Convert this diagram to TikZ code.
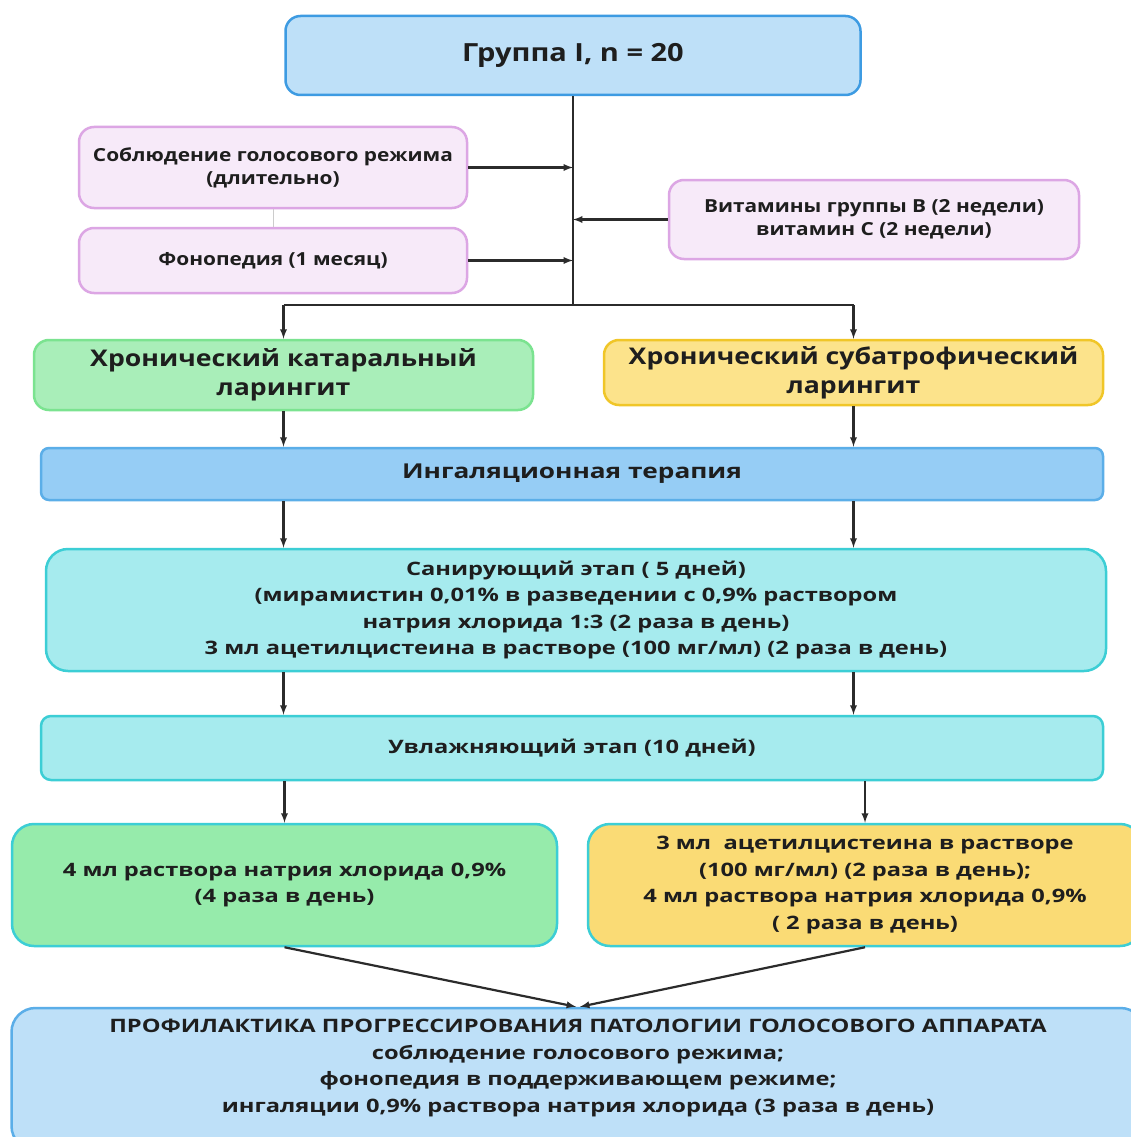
\documentclass[tikz,border=0pt]{standalone}
\usepackage{fontspec}
\setmainfont{Open Sans}
\newfontfamily\wideTop{Open Sans}[FakeStretch=1.16]
\newfontfamily\wideLow{Open Sans}[FakeStretch=1.28]
\usepackage{tikz}
\usetikzlibrary{arrows,positioning}

\definecolor{txt}{HTML}{1E1E1E}
\definecolor{lineC}{HTML}{2B2B2B}
\definecolor{blueFill}{HTML}{BEE0F8}
\definecolor{blueDraw}{HTML}{3D9BE2}
\definecolor{pinkFill}{HTML}{F7EAF9}
\definecolor{pinkDraw}{HTML}{DCA6E4}
\definecolor{catFill}{HTML}{A9EEB9}
\definecolor{catDraw}{HTML}{7BE390}
\definecolor{subFill}{HTML}{FCE38B}
\definecolor{subDraw}{HTML}{F0C628}
\definecolor{inhFill}{HTML}{96CDF5}
\definecolor{inhDraw}{HTML}{5BAEE8}
\definecolor{cyanFill}{HTML}{A6EBEE}
\definecolor{cyanDraw}{HTML}{3CCED5}
\definecolor{greenFill}{HTML}{96EBAB}
\definecolor{yellowFill}{HTML}{FADB75}

\begin{document}
\begin{tikzpicture}[x=1pt,y=-1pt]
			\tikzstyle{Box}		= [rectangle, rounded corners=15pt, line width=2.5pt, align=center, inner sep=0pt, text=txt]
			\tikzstyle{Small}	= [font=\wideTop\fontsize{18}{23}\selectfont\bfseries]
			\tikzstyle{Mid}		= [font=\wideLow\fontsize{18.5}{26.5}\selectfont\bfseries]
			\tikzstyle{Big}		= [font=\wideTop\fontsize{23}{29}\selectfont\bfseries]
			\tikzstyle{Pink}	= [Box, Small, fill=pinkFill, draw=pinkDraw]
			\tikzstyle{Cyan}	= [Box, Mid, fill=cyanFill, draw=cyanDraw]
			\tikzstyle{Flow}	= [-latex, line width=2.2pt, lineC]

			\useasboundingbox (0,0) rectangle (1131,1137);
			\fill[white] (0,0) rectangle (1131,1137);

			\node (Group) at (573,55.5) [Box, fill=blueFill, draw=blueDraw, minimum width=575pt, minimum height=79pt, font=\wideTop\fontsize{25}{30}\selectfont\bfseries] {Группа I, n = 20};
			\node (Voice) at (273,167.5) [Pink, minimum width=388pt, minimum height=81pt] {Соблюдение голосового режима\\(длительно)};
			\node (Phono) at (273,260.5) [Pink, minimum width=388pt, minimum height=65pt] {Фонопедия (1 месяц)};
			\node (Vit) at (874,219.5) [Pink, minimum width=410pt, minimum height=79pt] {Витамины группы B (2 недели)\\витамин C (2 недели)};

			\node (Cat) at (283.5,375) [Box, Big, fill=catFill, draw=catDraw, minimum width=499pt, minimum height=70pt] {Хронический катаральный\\ларингит};
			\node (Sub) at (853.5,372.5) [Box, Big, fill=subFill, draw=subDraw, minimum width=499pt, minimum height=65pt] {Хронический субатрофический\\ларингит};
			\node (Inh) at (572,474) [Box, fill=inhFill, draw=inhDraw, minimum width=1062pt, minimum height=52pt, rounded corners=8pt, font=\wideLow\fontsize{20.5}{24}\selectfont\bfseries] {Ингаляционная терапия};
			\node (San) at (576,610) [Cyan, minimum width=1060pt, minimum height=122pt, rounded corners=22pt] {Санирующий этап ( 5 дней)\\(мирамистин 0,01\% в разведении с 0,9\% раствором\\натрия хлорида 1:3 (2 раза в день)\\3 мл ацетилцистеина в растворе (100 мг/мл) (2 раза в день)};
			\node (Hum) at (572,748) [Cyan, minimum width=1062pt, minimum height=64pt, rounded corners=10pt] {Увлажняющий этап (10 дней)};
			\node (Green) at (284.5,885) [Cyan, fill=greenFill, minimum width=545pt, minimum height=122pt, rounded corners=22pt] {4 мл раствора натрия хлорида 0,9\%\\(4 раза в день)};
			\node (Yellow) at (865,885) [Cyan, fill=yellowFill, minimum width=554pt, minimum height=122pt, rounded corners=22pt] {3 мл\ \ ацетилцистеина в растворе\\(100 мг/мл) (2 раза в день);\\4 мл раствора натрия хлорида 0,9\%\\( 2 раза в день)};
			\node (Prof) at (578,1079) [Box, Mid, fill=blueFill, draw=inhDraw, minimum width=1133pt, minimum height=142pt, rounded corners=24pt, text depth=26pt] {ПРОФИЛАКТИКА ПРОГРЕССИРОВАНИЯ ПАТОЛОГИИ ГОЛОСОВОГО АППАРАТА\\соблюдение голосового режима;\\фонопедия в поддерживающем режиме;\\ингаляции 0,9\% раствора натрия хлорида (3 раза в день)};

			% trunk from the group box
			\coordinate (Split) at (Group.south |- 0,305);
			\draw [line width=2.2pt, lineC] (Group.south) -- (Split);
			\draw [line width=2.2pt, lineC] (Split -| Cat.north) -- (Split -| Sub.north);
			\foreach \n in {Cat, Sub}
				\draw [Flow] (Split -| \n.north) -- (\n.north);
			\foreach \n in {Voice, Phono}
				\draw [Flow] (\n.east) -- (\n.east -| Split);
			\draw [Flow] (Vit.west) -- (Vit.west -| Split);
			\draw [gray!40, line width=0.6pt] (Voice.south) -- (Phono.north);

			% two columns down the stages
			\foreach \a/\b in {Cat/Inh, Sub/Inh}
				\draw [Flow] (\a.south) -- (\a.south |- \b.north);
			\foreach \a/\b/\c in {Inh/San/Cat, Inh/San/Sub, San/Hum/Cat, San/Hum/Sub}
				\draw [Flow] (\a.south -| \c.south) -- (\b.north -| \c.south);
			\foreach \n in {Green, Yellow}
				\draw [Flow] (Hum.south -| \n.north) -- (\n.north);
			\draw [Flow] (Green.south) -- ([xshift=-2pt]Prof.north);
			\draw [Flow] (Yellow.south) -- ([xshift=2pt]Prof.north);
		\end{tikzpicture}
\end{document}
